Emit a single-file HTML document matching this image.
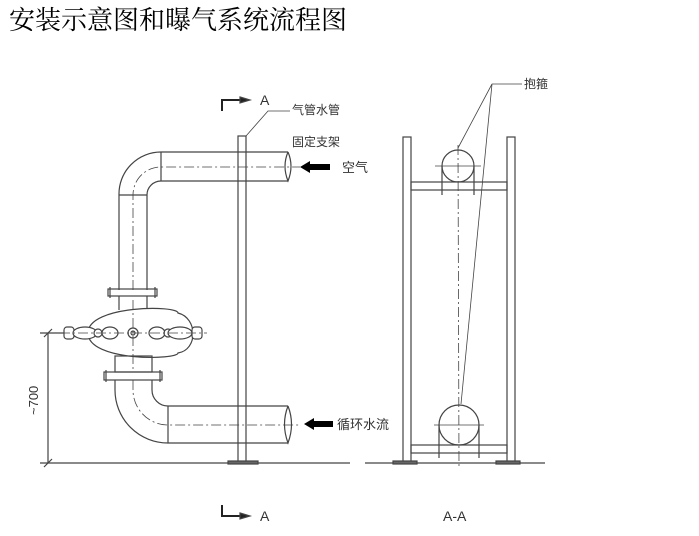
<!DOCTYPE html><html><head><meta charset="utf-8"><style>
body{margin:0;background:#fff;width:699px;height:536px;overflow:hidden}
.t{position:absolute;left:9px;top:0px;font:26px "Liberation Serif","Noto Serif CJK SC",serif;color:#000}
svg{position:absolute;left:0;top:0}
text{font-family:"Liberation Sans","Noto Sans CJK SC",sans-serif;fill:#333}
</style></head><body>
<div class="t">安装示意图和曝气系统流程图</div>
<svg width="699" height="536" fill="none" stroke="#444" stroke-width="1.2">
<line x1="40" y1="463" x2="350" y2="463"/><line x1="365" y1="463" x2="545" y2="463"/>
<line x1="48" y1="333" x2="48" y2="463"/><line x1="40" y1="333" x2="88" y2="333"/>
<line x1="44" y1="337" x2="52" y2="329"/><line x1="44" y1="467" x2="52" y2="459"/>
<text x="0" y="0" font-size="13" stroke="none" transform="translate(38,415) rotate(-90)">~700</text>
<rect x="238" y="136" width="8" height="327"/><rect x="228" y="461" width="30" height="3" fill="#666"/>
<path d="M119 290 V195 A42 42 0 0 1 161 152 H288 M147 290 V195 A14 14 0 0 1 161 181 H288"/>
<line x1="161" y1="152" x2="161" y2="181"/><line x1="119" y1="195" x2="147" y2="195"/>
<path d="M288 152 Q282 166 288 181 Q294 166 288 152"/>
<path d="M133 290 V195 A28 28 0 0 1 161 167 H300" stroke-dasharray="10 3 2 3" stroke-width="0.8"/>
<rect x="108" y="289" width="49" height="7"/><line x1="110" y1="287" x2="110" y2="298"/><line x1="155" y1="287" x2="155" y2="298"/>
<rect x="104" y="372" width="58" height="8"/><line x1="106" y1="370" x2="106" y2="382"/><line x1="160" y1="370" x2="160" y2="382"/>
<line x1="119" y1="296" x2="119" y2="310"/><line x1="147" y1="296" x2="147" y2="310"/>
<path d="M88 333 C88 305 178 305 178 313 C198 318 198 350 178 353 C178 360 88 362 88 333 Z" fill="#fff"/>
<rect x="115" y="356" width="37" height="16"/>
<g fill="#fff"><rect x="64" y="327" width="10" height="12" rx="3"/><ellipse cx="85" cy="333" rx="12" ry="6"/><circle cx="98" cy="333" r="4"/>
<ellipse cx="110" cy="333" rx="8" ry="6"/><ellipse cx="157" cy="333" rx="8" ry="6"/><circle cx="168" cy="333" r="4"/><ellipse cx="180" cy="333" rx="12" ry="6"/><rect x="192" y="327" width="10" height="12" rx="3"/>
<circle cx="133" cy="333" r="5"/><circle cx="133" cy="333" r="2"/></g>
<line x1="60" y1="333" x2="207" y2="333" stroke-dasharray="10 3 2 3" stroke-width="0.8"/>
<line x1="133" y1="300" x2="133" y2="372" stroke-dasharray="10 3 2 3" stroke-width="0.8"/>
<path d="M115 380 V390 A53 53 0 0 0 168 443 H288 M152 380 V390 A16 16 0 0 0 168 406 H288"/>
<line x1="168" y1="406" x2="168" y2="443"/>
<path d="M288 406 Q281 424 288 443 Q295 424 288 406"/>
<path d="M133 380 V390 A35 35 0 0 0 168 425 H300" stroke-dasharray="10 3 2 3" stroke-width="0.8"/>
<path d="M300 167 L310 161 V164 H330 V170 H310 V173 Z" fill="#000" stroke="none"/>
<path d="M304 424 L314 418 V421 H333 V427 H314 V430 Z" fill="#000" stroke="none"/>
<text x="342" y="172" font-size="13" stroke="none">空气</text>
<text x="337" y="429" font-size="13" stroke="none">循环水流</text>
<path d="M222 111 V100 H240" stroke-width="2" stroke="#222"/><path d="M240 97 L250 100 L240 103Z" fill="#222"/>
<text x="260" y="105" font-size="14" stroke="none">A</text>
<path d="M222 505 V516 H240" stroke-width="2" stroke="#222"/><path d="M240 513 L250 516 L240 519Z" fill="#222"/>
<text x="260" y="521" font-size="14" stroke="none">A</text>
<text x="443" y="521" font-size="14" stroke="none">A-A</text>
<path d="M246 136 L268 111 H290" stroke-width="0.8"/>
<text x="292" y="114" font-size="12" stroke="none">气管水管</text>
<text x="292" y="146" font-size="12" stroke="none">固定支架</text>
<rect x="403" y="137" width="8" height="326"/><rect x="507" y="137" width="8" height="326"/>
<rect x="393" y="461" width="24" height="3" fill="#666"/><rect x="496" y="461" width="24" height="3" fill="#666"/>
<rect x="411" y="182" width="96" height="8"/><rect x="411" y="445" width="96" height="8"/>
<circle cx="458" cy="166" r="16"/><path d="M442 166 V195 M474 166 V195"/>
<line x1="435" y1="166" x2="481" y2="166" stroke-width="0.8"/>
<circle cx="459" cy="425" r="20"/><path d="M439 425 V458 M479 425 V458"/>
<line x1="434" y1="425" x2="484" y2="425" stroke-width="0.8"/>
<line x1="458" y1="145" x2="459" y2="468" stroke-dasharray="10 3 2 3" stroke-width="0.8"/>
<path d="M458 148 L492 84 L461 404 M492 84 H522" stroke-width="0.8"/>
<text x="524" y="88" font-size="12" stroke="none">抱箍</text>
</svg>
</body></html>
